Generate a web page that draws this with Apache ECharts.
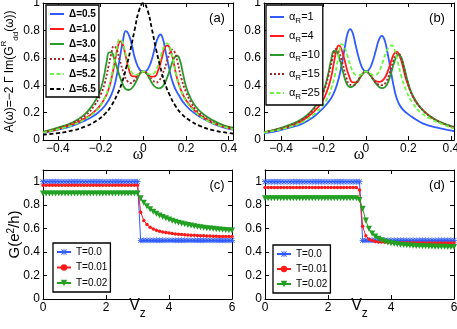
<!DOCTYPE html>
<html>
<head>
<meta charset="utf-8">
<script src="https://cdn.jsdelivr.net/npm/echarts@6/dist/echarts.min.js"></script>
<style>
html, body { margin: 0; padding: 0; background: #fff; }
#chart { width: 457px; height: 329px; }
</style>
</head>
<body>
<div id="chart"></div>
<script>
// tick labels
var xTicksAB = [-0.4, -0.2, 0, 0.2, 0.4];
var yTicksAB = [0, 0.2, 0.4, 0.6, 0.8, 1];
var xTicksCD = [0, 2, 4, 6];
var yTicksCD = [0, 0.2, 0.4, 0.6, 0.8, 1];

// legend names
var namesA = ['Δ=0.5', 'Δ=1.0', 'Δ=3.0', 'Δ=4.5', 'Δ=5.2', 'Δ=6.5'];
var namesB = ['α_R=1', 'α_R=4', 'α_R=10', 'α_R=15', 'α_R=25'];
var namesT = ['T=0.0', 'T=0.01', 'T=0.02'];

// (a) spectral function, [omega, A]
var a05 = [[-0.47,0.052],[-0.40,0.075],[-0.33,0.105],[-0.27,0.145],[-0.22,0.19],[-0.18,0.25],[-0.15,0.33],[-0.13,0.43],[-0.11,0.6],[-0.095,0.73],[-0.082,0.795],[-0.07,0.775],[-0.055,0.7],[-0.04,0.6],[-0.02,0.52],[0,0.495],[0.02,0.515],[0.04,0.59],[0.055,0.68],[0.068,0.745],[0.08,0.77],[0.092,0.735],[0.105,0.64],[0.12,0.53],[0.14,0.41],[0.165,0.33],[0.2,0.25],[0.245,0.19],[0.3,0.14],[0.36,0.1],[0.42,0.075]];
var a10 = [[-0.47,0.055],[-0.40,0.08],[-0.33,0.115],[-0.27,0.16],[-0.22,0.22],[-0.19,0.28],[-0.165,0.36],[-0.145,0.48],[-0.13,0.6],[-0.118,0.69],[-0.108,0.72],[-0.097,0.7],[-0.085,0.63],[-0.07,0.53],[-0.05,0.465],[-0.035,0.465],[-0.018,0.485],[0,0.5],[0.018,0.485],[0.035,0.463],[0.05,0.462],[0.07,0.51],[0.087,0.6],[0.1,0.67],[0.113,0.69],[0.125,0.665],[0.14,0.58],[0.155,0.47],[0.175,0.37],[0.2,0.29],[0.24,0.215],[0.29,0.155],[0.35,0.11],[0.42,0.08]];
var a30 = [[-0.47,0.06],[-0.40,0.09],[-0.33,0.13],[-0.28,0.18],[-0.245,0.24],[-0.22,0.3],[-0.2,0.37],[-0.185,0.46],[-0.172,0.57],[-0.16,0.64],[-0.15,0.64],[-0.138,0.6],[-0.12,0.51],[-0.1,0.42],[-0.085,0.375],[-0.07,0.365],[-0.05,0.385],[-0.03,0.44],[-0.015,0.485],[0,0.5],[0.015,0.485],[0.03,0.445],[0.05,0.395],[0.072,0.377],[0.09,0.39],[0.11,0.45],[0.13,0.54],[0.145,0.6],[0.158,0.615],[0.17,0.59],[0.185,0.49],[0.2,0.39],[0.22,0.31],[0.245,0.245],[0.28,0.19],[0.33,0.14],[0.38,0.105],[0.42,0.09]];
var a45 = [[-0.47,0.058],[-0.40,0.085],[-0.33,0.125],[-0.27,0.18],[-0.23,0.25],[-0.2,0.33],[-0.18,0.42],[-0.163,0.54],[-0.15,0.63],[-0.138,0.685],[-0.126,0.665],[-0.11,0.58],[-0.09,0.48],[-0.075,0.43],[-0.06,0.415],[-0.045,0.43],[-0.025,0.47],[0,0.5],[0.025,0.47],[0.045,0.435],[0.06,0.42],[0.075,0.435],[0.09,0.48],[0.11,0.57],[0.125,0.64],[0.135,0.66],[0.147,0.64],[0.16,0.57],[0.178,0.45],[0.2,0.35],[0.225,0.27],[0.26,0.2],[0.31,0.145],[0.36,0.11],[0.42,0.085]];
var a52 = [[-0.47,0.054],[-0.40,0.078],[-0.33,0.11],[-0.27,0.155],[-0.22,0.215],[-0.19,0.28],[-0.165,0.37],[-0.145,0.5],[-0.13,0.62],[-0.12,0.7],[-0.112,0.735],[-0.1,0.72],[-0.085,0.64],[-0.068,0.54],[-0.05,0.485],[-0.035,0.475],[-0.018,0.485],[0,0.5],[0.018,0.487],[0.035,0.477],[0.05,0.487],[0.068,0.54],[0.085,0.63],[0.1,0.69],[0.112,0.705],[0.124,0.68],[0.14,0.58],[0.155,0.47],[0.175,0.37],[0.2,0.285],[0.24,0.21],[0.29,0.15],[0.35,0.11],[0.42,0.078]];
var a65 = [[-0.47,0.04],[-0.40,0.05],[-0.33,0.07],[-0.27,0.1],[-0.22,0.14],[-0.18,0.19],[-0.15,0.25],[-0.12,0.34],[-0.1,0.42],[-0.08,0.53],[-0.06,0.66],[-0.04,0.81],[-0.02,0.945],[0,1.0],[0.02,0.945],[0.04,0.81],[0.06,0.66],[0.08,0.53],[0.1,0.42],[0.12,0.34],[0.15,0.25],[0.18,0.19],[0.22,0.14],[0.27,0.1],[0.33,0.07],[0.42,0.047]];

// (b) spectral function, [omega, A]
var b1 = [[-0.48,0.05],[-0.42,0.065],[-0.36,0.09],[-0.3,0.12],[-0.25,0.165],[-0.21,0.22],[-0.18,0.27],[-0.155,0.33],[-0.135,0.41],[-0.115,0.54],[-0.1,0.67],[-0.086,0.78],[-0.074,0.81],[-0.062,0.78],[-0.048,0.69],[-0.03,0.58],[-0.015,0.52],[0,0.5],[0.015,0.515],[0.03,0.565],[0.048,0.66],[0.062,0.735],[0.075,0.76],[0.088,0.73],[0.1,0.65],[0.114,0.535],[0.13,0.4],[0.146,0.3],[0.165,0.24],[0.19,0.2],[0.23,0.155],[0.27,0.12],[0.33,0.092],[0.415,0.065]];
var b4 = [[-0.48,0.055],[-0.42,0.075],[-0.36,0.1],[-0.3,0.14],[-0.25,0.2],[-0.21,0.27],[-0.185,0.35],[-0.165,0.45],[-0.15,0.57],[-0.138,0.66],[-0.128,0.69],[-0.117,0.67],[-0.1,0.58],[-0.08,0.47],[-0.06,0.42],[-0.045,0.42],[-0.025,0.46],[0,0.5],[0.025,0.465],[0.045,0.43],[0.065,0.425],[0.085,0.445],[0.105,0.51],[0.122,0.59],[0.135,0.635],[0.145,0.645],[0.157,0.62],[0.172,0.55],[0.19,0.44],[0.215,0.34],[0.25,0.25],[0.3,0.175],[0.35,0.13],[0.415,0.09]];
var b10 = [[-0.48,0.057],[-0.42,0.08],[-0.36,0.11],[-0.3,0.155],[-0.255,0.215],[-0.22,0.29],[-0.195,0.38],[-0.178,0.48],[-0.163,0.59],[-0.15,0.65],[-0.138,0.645],[-0.122,0.58],[-0.105,0.48],[-0.09,0.41],[-0.075,0.385],[-0.058,0.395],[-0.035,0.44],[-0.015,0.485],[0,0.5],[0.015,0.485],[0.035,0.44],[0.06,0.39],[0.08,0.378],[0.097,0.4],[0.115,0.47],[0.132,0.56],[0.145,0.61],[0.155,0.625],[0.167,0.6],[0.182,0.52],[0.2,0.41],[0.225,0.31],[0.26,0.23],[0.3,0.175],[0.35,0.13],[0.415,0.095]];
var b15 = [[-0.48,0.056],[-0.42,0.078],[-0.36,0.105],[-0.3,0.15],[-0.255,0.21],[-0.22,0.285],[-0.195,0.37],[-0.176,0.47],[-0.16,0.58],[-0.148,0.65],[-0.14,0.665],[-0.128,0.645],[-0.11,0.56],[-0.093,0.46],[-0.077,0.405],[-0.06,0.4],[-0.04,0.43],[-0.018,0.48],[0,0.5],[0.018,0.48],[0.04,0.43],[0.06,0.405],[0.076,0.4],[0.093,0.42],[0.112,0.49],[0.128,0.575],[0.14,0.62],[0.15,0.635],[0.162,0.615],[0.177,0.54],[0.195,0.43],[0.22,0.32],[0.255,0.24],[0.3,0.175],[0.35,0.13],[0.415,0.093]];
var b25 = [[-0.48,0.053],[-0.42,0.072],[-0.36,0.095],[-0.3,0.13],[-0.25,0.18],[-0.21,0.24],[-0.18,0.31],[-0.16,0.39],[-0.145,0.48],[-0.132,0.59],[-0.122,0.67],[-0.114,0.7],[-0.103,0.685],[-0.088,0.62],[-0.07,0.53],[-0.052,0.48],[-0.038,0.472],[-0.02,0.48],[0,0.5],[0.02,0.485],[0.04,0.473],[0.058,0.49],[0.077,0.56],[0.095,0.64],[0.11,0.68],[0.122,0.69],[0.134,0.665],[0.15,0.57],[0.168,0.46],[0.19,0.36],[0.22,0.27],[0.26,0.2],[0.31,0.15],[0.36,0.115],[0.415,0.085]];

// (c),(d) conductance vs Vz
var vz = [0,0.1,0.2,0.3,0.4,0.5,0.6,0.7,0.8,0.9,1,1.1,1.2,1.3,1.4,1.5,1.6,1.7,1.8,1.9,2,2.1,2.2,2.3,2.4,2.5,2.6,2.7,2.8,2.9,3,3.1,3.2,3.3,3.4,3.5,3.6,3.7,3.8,3.9,4,4.1,4.2,4.3,4.4,4.5,4.6,4.7,4.8,4.9,5,5.1,5.2,5.3,5.4,5.5,5.6,5.7,5.8,5.9,6];
var gC0 = [1,1,1,1,1,1,1,1,1,1,1,1,1,1,1,1,1,1,1,1,1,1,1,1,1,1,1,1,1,1,1,0.5,0.5,0.5,0.5,0.5,0.5,0.5,0.5,0.5,0.5,0.5,0.5,0.5,0.5,0.5,0.5,0.5,0.5,0.5,0.5,0.5,0.5,0.5,0.5,0.5,0.5,0.5,0.5,0.5,0.5];
var gC1 = [0.97,0.97,0.97,0.97,0.97,0.97,0.97,0.97,0.97,0.97,0.97,0.97,0.97,0.97,0.97,0.97,0.97,0.97,0.97,0.97,0.97,0.97,0.97,0.97,0.97,0.97,0.97,0.97,0.97,0.97,0.97,0.74,0.67,0.635,0.612,0.597,0.586,0.578,0.571,0.566,0.562,0.558,0.555,0.552,0.55,0.548,0.546,0.544,0.543,0.541,0.54,0.539,0.538,0.537,0.536,0.535,0.534,0.534,0.533,0.533,0.532];
var gC2 = [0.9,0.9,0.9,0.9,0.9,0.9,0.9,0.9,0.9,0.9,0.9,0.9,0.9,0.9,0.9,0.9,0.9,0.9,0.9,0.9,0.9,0.9,0.9,0.9,0.9,0.9,0.9,0.9,0.9,0.9,0.9,0.86,0.82,0.79,0.765,0.745,0.727,0.712,0.699,0.688,0.678,0.668,0.659,0.651,0.644,0.637,0.631,0.626,0.621,0.616,0.612,0.608,0.604,0.601,0.598,0.595,0.593,0.591,0.589,0.587,0.585];
var gD0 = [1,1,1,1,1,1,1,1,1,1,1,1,1,1,1,1,1,1,1,1,1,1,1,1,1,1,1,1,1,1,1,0.5,0.5,0.5,0.5,0.5,0.5,0.5,0.5,0.5,0.5,0.5,0.5,0.5,0.5,0.5,0.5,0.5,0.5,0.5,0.5,0.5,0.5,0.5,0.5,0.5,0.5,0.5,0.5,0.5,0.5];
var gD1 = [0.95,0.95,0.95,0.95,0.95,0.95,0.95,0.95,0.95,0.95,0.95,0.95,0.95,0.95,0.95,0.95,0.95,0.95,0.95,0.95,0.95,0.95,0.95,0.95,0.95,0.95,0.95,0.95,0.95,0.95,0.93,0.62,0.54,0.51,0.498,0.491,0.487,0.485,0.483,0.482,0.481,0.481,0.48,0.48,0.48,0.479,0.479,0.479,0.479,0.478,0.478,0.478,0.478,0.478,0.477,0.477,0.477,0.477,0.477,0.477,0.477];
var gD2 = [0.86,0.86,0.86,0.86,0.86,0.86,0.86,0.86,0.86,0.86,0.86,0.86,0.86,0.86,0.86,0.86,0.86,0.86,0.86,0.86,0.86,0.86,0.86,0.86,0.86,0.86,0.86,0.86,0.86,0.86,0.845,0.77,0.67,0.6,0.558,0.532,0.514,0.5,0.49,0.482,0.476,0.471,0.467,0.463,0.46,0.458,0.456,0.454,0.452,0.451,0.45,0.449,0.448,0.447,0.446,0.446,0.445,0.445,0.444,0.444,0.443];

var FF = '"Liberation Sans", Arial, Helvetica, sans-serif';
var colsAB = ['#2f5bff', '#ff1c1c', '#2a9a2a', '#a3282a', '#6cf542', '#000000'];
var typesAB = ['solid', 'solid', 'solid', [2, 2], [4, 2.5], [4, 2.5]];
var colsT = ['#2f5bff', '#ff1a1a', '#22a022'];
var star = 'path://M4.4,0H5.6V10H4.4Z M0,4.4H10V5.6H0Z M1.3,0.5L9.5,8.7L8.7,9.5L0.5,1.3Z M8.7,0.5L9.5,1.3L1.3,9.5L0.5,8.7Z';
var symT = [star, 'circle', 'triangle'];
var symSizeT = [6, 3.5, 6];
var symRotT = [0, 0, 180];

function minus(v) { return String(v).replace('-', '\u2212'); }

function xAx(gi, min, max, ticks, extra) {
    return Object.assign({
        type: 'value', gridIndex: gi, min: min, max: max, position: 'bottom', nameMoveOverlap: false,
        axisLine: { show: true, onZero: false, lineStyle: { color: '#000', width: 1 } },
        axisTick: { show: true, inside: true, length: 4, customValues: ticks, lineStyle: { color: '#000' } },
        axisLabel: { customValues: ticks, color: '#000', fontSize: 12, fontFamily: FF, margin: 3, formatter: minus },
        splitLine: { show: false }
    }, extra || {});
}
function yAx(gi, min, max, ticks, extra) {
    return Object.assign({
        type: 'value', gridIndex: gi, min: min, max: max, position: 'left', nameMoveOverlap: false,
        axisLine: { show: true, onZero: false, lineStyle: { color: '#000', width: 1 } },
        axisTick: { show: true, inside: true, length: 4, customValues: ticks, lineStyle: { color: '#000' } },
        axisLabel: { customValues: ticks, color: '#000', fontSize: 12, fontFamily: FF, margin: 3, formatter: minus },
        splitLine: { show: false }
    }, extra || {});
}
function mirror(ax, pos) {
    var m = Object.assign({}, ax, { position: pos, name: '' });
    m.axisLabel = { show: false };
    return m;
}

var omegaName = {
    name: 'ω', nameLocation: 'middle', nameGap: 7,
    nameTextStyle: { color: '#000', fontSize: 16, fontFamily: '"Liberation Serif", "DejaVu Serif", serif' }
};
var vzName = {
    name: '{v|V}{z|z}', nameLocation: 'middle', nameGap: -1,
    nameTextStyle: {
        color: '#000', fontFamily: FF, fontSize: 16,
        rich: {
            v: { fontSize: 16, fontFamily: FF, color: '#000', lineHeight: 16, verticalAlign: 'top' },
            z: { fontSize: 12, fontFamily: FF, color: '#000', lineHeight: 12, padding: [16, 0, 0, 0] }
        }
    }
};
var aName = {
    name: '{n|A(ω)=−2 Γ Im(G}{p|R}{b|dd}{n|(ω))}', nameLocation: 'middle', nameGap: 23,
    nameTextStyle: {
        color: '#000', fontFamily: FF, fontSize: 12,
        rich: {
            n: { fontSize: 12, fontFamily: FF, color: '#000', lineHeight: 20 },
            p: { fontSize: 8, fontFamily: FF, color: '#000', lineHeight: 9, verticalAlign: 'top' },
            b: { fontSize: 8, fontFamily: FF, color: '#000', lineHeight: 9, verticalAlign: 'bottom' }
        }
    }
};
var gName = {
    name: '{n|G(e}{s|2}{n|/h)}', nameLocation: 'middle', nameGap: 19,
    nameTextStyle: {
        color: '#000', fontFamily: FF, fontSize: 15,
        rich: {
            n: { fontSize: 15, fontFamily: FF, color: '#000', lineHeight: 18 },
            s: { fontSize: 10, fontFamily: FF, color: '#000', lineHeight: 10, verticalAlign: 'top' }
        }
    }
};

var xA = xAx(0, -0.47, 0.42, xTicksAB, omegaName);
var xB = xAx(1, -0.48, 0.415, xTicksAB, omegaName);
var xC = xAx(2, 0, 6, xTicksCD, vzName);
var xD = xAx(3, 0, 6, xTicksCD, vzName);
var yA = yAx(0, 0, 1, yTicksAB, aName);
var yB = yAx(1, 0, 1, yTicksAB);
var yC = yAx(2, 0, 1.1, yTicksCD, gName);
var yD = yAx(3, 0, 1.1, yTicksCD);

var curvesA = [a05, a10, a30, a45, a52, a65];
var curvesB = [b1, b4, b10, b15, b25];
var gC = [gC0, gC1, gC2];
var gD = [gD0, gD1, gD2];

var series = [];
namesA.forEach(function (n, i) {
    series.push({
        type: 'line', name: n, xAxisIndex: 0, yAxisIndex: 0, data: curvesA[i],
        smooth: true, symbol: 'none',
        lineStyle: { color: colsAB[i], width: 1.8, type: typesAB[i] },
        itemStyle: { color: colsAB[i] }
    });
});
namesB.forEach(function (n, i) {
    series.push({
        type: 'line', name: n, xAxisIndex: 1, yAxisIndex: 1, data: curvesB[i],
        smooth: true, symbol: 'none',
        lineStyle: { color: colsAB[i], width: 1.8, type: typesAB[i] },
        itemStyle: { color: colsAB[i] }
    });
});
[gC, gD].forEach(function (set, p) {
    namesT.forEach(function (n, i) {
        series.push({
            type: 'line', name: n, xAxisIndex: 2 + p, yAxisIndex: 2 + p,
            data: vz.map(function (v, k) { return [v, set[i][k]]; }),
            symbol: symT[i], symbolSize: symSizeT[i], symbolRotate: symRotT[i], showSymbol: true,
            lineStyle: { color: colsT[i], width: 1 },
            itemStyle: { color: colsT[i] }
        });
    });
});

var legendBase = {
    orient: 'vertical', selectedMode: false, backgroundColor: '#fff',
    borderColor: '#000', borderWidth: 1.3, itemWidth: 14, itemHeight: 8, z: 10
};
var noMarker = { color: 'rgba(0,0,0,0)', borderWidth: 0 };

var option = {
    animation: false,
    backgroundColor: '#fff',
    grid: [
        { left: 43, top: 3, width: 190, height: 137, outerBoundsMode: 'none' },
        { left: 264, top: 3, width: 190, height: 137, outerBoundsMode: 'none' },
        { left: 43, top: 170, width: 189, height: 129, outerBoundsMode: 'none' },
        { left: 265, top: 170, width: 189, height: 129, outerBoundsMode: 'none' }
    ],
    xAxis: [xA, xB, xC, xD, mirror(xA, 'top'), mirror(xB, 'top'), mirror(xC, 'top'), mirror(xD, 'top')],
    yAxis: [yA, yB, yC, yD, mirror(yA, 'right'), mirror(yB, 'right'), mirror(yC, 'right'), mirror(yD, 'right')],
    legend: [
        Object.assign({}, legendBase, {
            left: 46, top: 5, data: namesA, itemGap: 3, padding: [3, 3, 2, 3], itemStyle: noMarker,
            textStyle: { fontSize: 10, fontWeight: 'bold', color: '#000', fontFamily: FF, lineHeight: 12 }
        }),
        Object.assign({}, legendBase, {
            left: 266, top: 5, data: namesB, itemGap: 3, padding: [4, 3, 4, 3], itemStyle: noMarker,
            formatter: function (n) { return '{a|α}{r|R}{a|' + n.slice(3) + '}'; },
            textStyle: {
                fontSize: 11, color: '#000', fontFamily: FF,
                rich: {
                    a: { fontSize: 11, fontFamily: FF, color: '#000', lineHeight: 14 },
                    r: { fontSize: 8, fontFamily: FF, color: '#000', lineHeight: 8, padding: [8, 0, 0, 0] }
                }
            }
        }),
        Object.assign({}, legendBase, {
            left: 53, top: 243, data: namesT, itemGap: 3.5, padding: [3, 3, 3, 3],
            textStyle: { fontSize: 10, color: '#000', fontFamily: FF, lineHeight: 12 }
        }),
        Object.assign({}, legendBase, {
            left: 273, top: 245, data: namesT, itemGap: 3, padding: [3, 3, 3, 3],
            textStyle: { fontSize: 10, color: '#000', fontFamily: FF, lineHeight: 12 }
        })
    ],
    graphic: [
        { type: 'text', x: 217, y: 18, style: { text: '(a)', fontSize: 13, fontFamily: FF, fill: '#000', align: 'center', verticalAlign: 'middle' } },
        { type: 'text', x: 437, y: 18, style: { text: '(b)', fontSize: 13, fontFamily: FF, fill: '#000', align: 'center', verticalAlign: 'middle' } },
        { type: 'text', x: 217, y: 185, style: { text: '(c)', fontSize: 13, fontFamily: FF, fill: '#000', align: 'center', verticalAlign: 'middle' } },
        { type: 'text', x: 437, y: 185, style: { text: '(d)', fontSize: 13, fontFamily: FF, fill: '#000', align: 'center', verticalAlign: 'middle' } }
    ],
    series: series
};

var myChart = echarts.init(document.getElementById('chart'));
myChart.setOption(option);
</script>
</body>
</html>
